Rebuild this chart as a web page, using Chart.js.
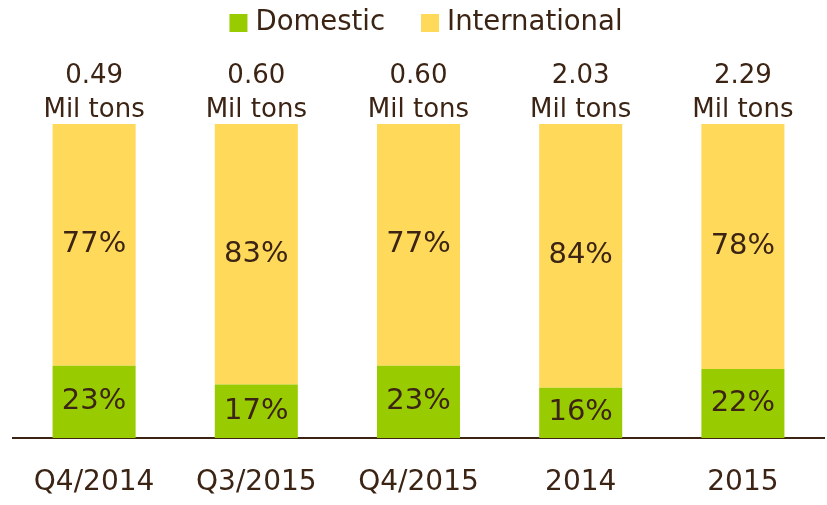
<!DOCTYPE html>
<html>
<head>
<meta charset="utf-8">
<script src="https://cdn.jsdelivr.net/npm/chart.js@4/dist/chart.umd.min.js"></script>
<style>
  html, body { margin: 0; padding: 0; background: #fff; }
  #wrap { width: 827px; height: 505px; }
</style>
</head>
<body>
<div id="wrap"><canvas id="myChart" width="827" height="505"></canvas></div>
<script>
const categories = ["Q4/2014", "Q3/2015", "Q4/2015", "2014", "2015"];
const domestic = [23, 17, 23, 16, 22];
const international = [77, 83, 77, 84, 78];
const totals = ["0.49", "0.60", "0.60", "2.03", "2.29"];

const textColor = "#3c2415";
const fontFamily = "'DejaVu Sans', Verdana, sans-serif";

// percent labels inside segments, tonnage above bars, legend on top
const labelsPlugin = {
  id: "barLabels",
  afterDatasetsDraw(chart) {
    const ctx = chart.ctx;
    ctx.save();
    ctx.fillStyle = textColor;
    ctx.textAlign = "center";
    ctx.textBaseline = "middle";
    ctx.font = "29px " + fontFamily;
    chart.data.datasets.forEach((ds, i) => {
      chart.getDatasetMeta(i).data.forEach((bar, j) => {
        const mid = (bar.y + bar.base) / 2;
        ctx.fillText(ds.data[j] + "%", bar.x, mid);
      });
    });
    ctx.font = "26px " + fontFamily;
    chart.getDatasetMeta(1).data.forEach((bar, j) => {
      ctx.fillText(totals[j], bar.x, bar.y - 48);
      ctx.fillText("Mil tons", bar.x, bar.y - 14);
    });

    // legend
    ctx.font = "27.5px " + fontFamily;
    ctx.textAlign = "left";
    const box = 18, gapText = 8, gapItem = 36;
    const items = chart.data.datasets;
    let total = 0;
    items.forEach((ds, i) => {
      total += box + gapText + ctx.measureText(ds.label).width;
      if (i < items.length - 1) total += gapItem;
    });
    let x = 426 - total / 2;
    items.forEach((ds) => {
      ctx.fillStyle = ds.backgroundColor;
      ctx.fillRect(x, 14, box, box);
      ctx.fillStyle = textColor;
      ctx.fillText(ds.label, x + box + gapText, 23);
      x += box + gapText + ctx.measureText(ds.label).width + gapItem;
    });
    ctx.restore();
  },
};

new Chart(document.querySelector("#myChart"), {
  type: "bar",
  data: {
    labels: categories,
    datasets: [
      {
        label: "Domestic",
        data: domestic,
        backgroundColor: "#99cc00",
        barPercentage: 0.512,
        categoryPercentage: 1,
      },
      {
        label: "International",
        data: international,
        backgroundColor: "#ffd95a",
        barPercentage: 0.512,
        categoryPercentage: 1,
      },
    ],
  },
  options: {
    responsive: false,
    animation: false,
    layout: { padding: { left: 13, right: 3, top: 124, bottom: 0 } },
    plugins: {
      legend: { display: false },
      tooltip: { enabled: false },
    },
    scales: {
      x: {
        stacked: true,
        grid: { display: false, drawTicks: false },
        border: { color: textColor, width: 2 },
        ticks: {
          color: textColor,
          font: { size: 28, family: fontFamily },
          padding: 28,
          maxRotation: 0,
        },
        afterFit(scale) {
          scale.height = 67;
        },
      },
      y: {
        stacked: true,
        display: false,
        min: 0,
        max: 100,
      },
    },
  },
  plugins: [labelsPlugin],
});
</script>
</body>
</html>
